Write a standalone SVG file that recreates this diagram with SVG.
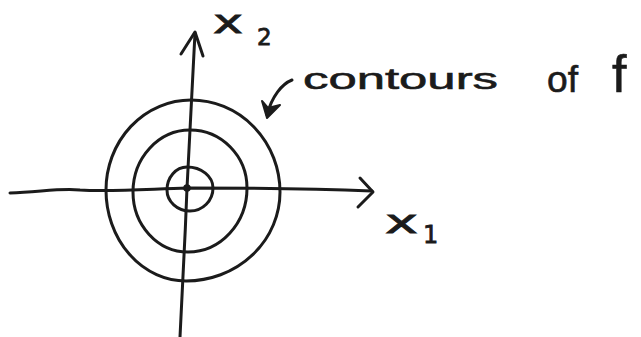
<svg xmlns="http://www.w3.org/2000/svg" width="641" height="337" viewBox="0 0 641 337">
<style>
.ink{fill:none;stroke:#1b1b1b;stroke-width:3;stroke-linecap:round;stroke-linejoin:round}
.lbl{font-family:"DejaVu Sans",sans-serif;fill:#1b1b1b;stroke:#1b1b1b;stroke-width:0.8}
.hand{font-family:"Liberation Sans",sans-serif;fill:#1b1b1b;stroke:#1b1b1b;stroke-width:0.6}
</style>
<rect width="641" height="337" fill="#ffffff"/>
<g id="connectors">
<path id="x2-axis" class="ink" d="M180,337 C182,300 185,240 187,188 C189,140 192,90 195,33"/>
<path class="ink" d="M181,54 L195,32 L203,56"/>
<path id="x1-axis" class="ink" d="M10,193 C40,192 60,188 80,190 C110,192 150,189 187,188 C260,188 320,189 372,191"/>
<path class="ink" d="M360,178 L373,192 L358,207"/>
<path id="label-arrow" class="ink" d="M292,80 C282,84 272,96 267,115"/>
<path d="M267,118 L262,101 L268,108 L280,105 Z" fill="#1b1b1b" stroke="#1b1b1b" stroke-width="2" stroke-linejoin="round"/>
</g>
<g id="contour-outer">
<path class="ink" d="M191,100 A89,92 0 0 1 280,192 A94,89 0 0 1 186,281 A80,91 0 0 1 106,190 A85,90 0 0 1 191,100 Z"/>
</g>
<g id="contour-middle">
<path class="ink" d="M190,130 A57,58 0 0 1 247,188 A59,64 0 0 1 188,252 A55,60 0 0 1 133,192 A57,62 0 0 1 190,130 Z"/>
</g>
<g id="contour-inner">
<path class="ink" d="M187,167 A26,21 0 0 1 213,188 A23,23 0 0 1 190,211 A23,21 0 0 1 167,190 A20,23 0 0 1 187,167 Z"/>
</g>
<g id="origin">
<circle cx="187" cy="188" r="3.8" fill="#1b1b1b"/>
</g>
<g id="label-x2">
<text class="lbl" x="213" y="33" font-size="32" textLength="30" lengthAdjust="spacingAndGlyphs">x</text>
<text class="lbl" x="257" y="45" font-size="23">2</text>
</g>
<g id="label-x1">
<text class="lbl" x="385" y="233" font-size="32" textLength="33" lengthAdjust="spacingAndGlyphs">x</text>
<text class="lbl" x="423" y="243" font-size="24">1</text>
</g>
<g id="label-contours">
<text class="hand" x="303" y="89" font-size="30" textLength="195" lengthAdjust="spacingAndGlyphs">contours</text>
<text class="hand" x="547" y="92" font-size="36" textLength="31" lengthAdjust="spacingAndGlyphs">of</text>
<text class="hand" x="612" y="92" font-size="52">f</text>
</g>
</svg>
